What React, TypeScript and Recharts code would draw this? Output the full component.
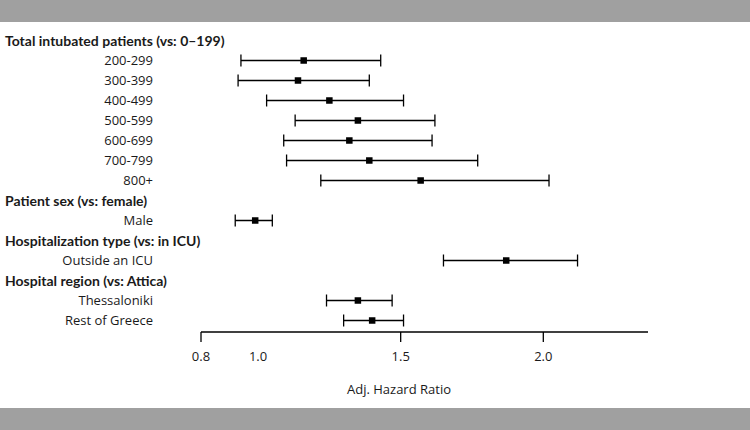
import React from "react";
import { ScatterChart, Scatter, XAxis, YAxis, ErrorBar } from "recharts";

// Row layout (top to bottom)
const rowLabels = [
  "Total intubated patients (vs: 0–199)",
  "200-299",
  "300-399",
  "400-499",
  "500-599",
  "600-699",
  "700-799",
  "800+",
  "Patient sex (vs: female)",
  "Male",
  "Hospitalization type (vs: in ICU)",
  "Outside an ICU",
  "Hospital region (vs: Attica)",
  "Thessaloniki",
  "Rest of Greece",
];
const headerRows = [0, 8, 10, 12];

// Estimates (rows with a value)
const estRows = [1, 2, 3, 4, 5, 6, 7, 9, 11, 13, 14];
const hr = [1.16, 1.14, 1.25, 1.35, 1.32, 1.39, 1.57, 0.99, 1.87, 1.35, 1.4];
const ciLow = [0.94, 0.93, 1.03, 1.13, 1.09, 1.1, 1.22, 0.92, 1.65, 1.24, 1.3];
const ciHigh = [1.43, 1.39, 1.51, 1.62, 1.61, 1.77, 2.02, 1.05, 2.12, 1.47, 1.51];

const xTicks = [0.8, 1.0, 1.5, 2.0];
const xTicksWithLine = [0.8, 1.5, 2.0];
const xTitle = "Adj. Hazard Ratio";
const rightHeader = "HR (95% CI)";

const FONT = "'Open Sans', sans-serif";
const FONT_B = "Lato, 'Open Sans', sans-serif";
const TEXT = "#1a1a1a";

const fmt = (v: number) => v.toFixed(2);

const points = estRows.map((row, i) => ({
  row,
  hr: hr[i],
  err: [hr[i] - ciLow[i], ciHigh[i] - hr[i]],
}));

const rightText: Record<number, string> = { 0: rightHeader };
estRows.forEach((row, i) => {
  rightText[row] = `${fmt(hr[i])} (${fmt(ciLow[i])}–${fmt(ciHigh[i])})`;
});

const rowTicks = rowLabels.map((_, i) => i);

const LeftTick = (props: any) => {
  const { x, y, payload } = props;
  const idx = payload.value as number;
  const isHeader = headerRows.includes(idx);
  return (
    <text
      x={isHeader ? x - 148 : x}
      y={y}
      dy="0.36em"
      textAnchor={isHeader ? "start" : "end"}
      fontFamily={isHeader ? FONT_B : FONT}
      fontSize={isHeader ? 14 : 13}
      fontWeight={isHeader ? 700 : 400}
      fill={TEXT}
    >
      {rowLabels[idx]}
    </text>
  );
};

const RightTick = (props: any) => {
  const { x, y, payload } = props;
  const idx = payload.value as number;
  const t = rightText[idx];
  if (!t) return null;
  return (
    <text
      x={x}
      y={y}
      dy="0.36em"
      textAnchor="middle"
      fontFamily={FONT_B}
      fontSize={13.5}
      fontWeight={idx === 0 ? 700 : 400}
      fill={TEXT}
    >
      {t}
    </text>
  );
};

const BottomTick = (props: any) => {
  const { x, y, payload } = props;
  const v = payload.value as number;
  return (
    <g>
      {xTicksWithLine.includes(v) && (
        <line x1={x} x2={x} y1={y - 20} y2={y - 10} stroke="#000" strokeWidth={1.3} />
      )}
      <text x={x} y={y} dy="0.71em" textAnchor="middle" fontFamily={FONT} fontSize={13} fill={TEXT}>
        {v.toFixed(1)}
      </text>
    </g>
  );
};

const SquareShape = (props: any) => {
  const { cx, cy } = props;
  const s = 6.5;
  return <rect x={cx - s / 2} y={cy - s / 2} width={s} height={s} fill="#000" />;
};

const XLabel = (props: any) => {
  const { viewBox } = props;
  return (
    <text
      x={viewBox.x + 198}
      y={viewBox.y + 57}
      dy="0.36em"
      textAnchor="middle"
      fontFamily={FONT}
      fontSize={13}
      fill={TEXT}
    >
      {xTitle}
    </text>
  );
};

export default function App() {
  return (
    <div style={{ position: "fixed", left: 0, top: 0, width: 750, height: 430, background: "#fff", overflow: "hidden" }}>
      <div style={{ position: "absolute", left: 0, top: 0, width: 750, height: 22, background: "#a0a0a0" }} />
      <div style={{ position: "absolute", left: 0, top: 408, width: 750, height: 22, background: "#a0a0a0" }} />
      <div style={{ position: "absolute", left: 0, top: 0 }}>
        <ScatterChart width={750} height={430} margin={{ top: 20.5, right: 0, bottom: 38, left: 0 }}>
          <XAxis
            type="number"
            dataKey="hr"
            domain={[0.8, 2.367]}
            ticks={xTicks}
            allowDataOverflow
            tickLine={false}
            tickSize={10}
            tickMargin={10}
            height={60}
            axisLine={{ stroke: "#000", strokeWidth: 1.3 }}
            tick={<BottomTick />}
            label={<XLabel />}
          />
          <YAxis
            yAxisId="left"
            type="number"
            dataKey="row"
            domain={[-1, 14.575]}
            reversed
            ticks={rowTicks}
            interval={0}
            width={201}
            axisLine={false}
            tickLine={false}
            tickSize={0}
            tickMargin={48}
            tick={<LeftTick />}
          />
          <YAxis
            yAxisId="right"
            orientation="right"
            type="number"
            dataKey="row"
            domain={[-1, 14.575]}
            reversed
            ticks={rowTicks}
            interval={0}
            width={102}
            axisLine={false}
            tickLine={false}
            tickSize={0}
            tickMargin={47}
            tick={<RightTick />}
          />
          <Scatter yAxisId="left" data={points} shape={<SquareShape />} isAnimationActive={false}>
            <ErrorBar dataKey="err" direction="x" width={6} strokeWidth={1.3} stroke="#000" />
          </Scatter>
        </ScatterChart>
      </div>
    </div>
  );
}
